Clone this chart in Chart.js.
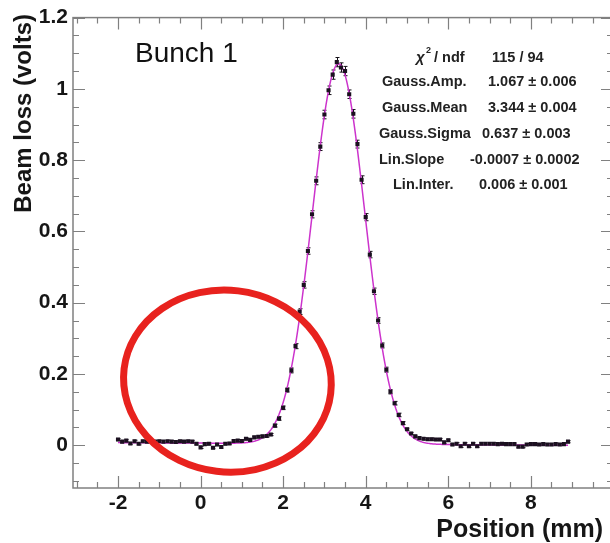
<!DOCTYPE html>
<html>
<head>
<meta charset="utf-8">
<script src="https://cdn.jsdelivr.net/npm/chart.js@4.4.1/dist/chart.umd.min.js"></script>
<style>
html, body { margin: 0; padding: 0; background: #fff; overflow: hidden; width: 610px; height: 543px; }
canvas { display: block; }
</style>
</head>
<body>
<canvas id="scan" width="624" height="543"></canvas>
<script>
// Wire scan of bunch 1: beam loss signal versus wire position
const positions = [
  -2.0, -1.9, -1.8, -1.7, -1.6, -1.5, -1.4, -1.3, -1.2, -1.1,
  -1.0, -0.9, -0.8, -0.7, -0.6, -0.5, -0.4, -0.3, -0.2, -0.1,
   0.0,  0.1,  0.2,  0.3,  0.4,  0.5,  0.6,  0.7,  0.8,  0.9,
   1.0,  1.1,  1.2,  1.3,  1.4,  1.5,  1.6,  1.7,  1.8,  1.9,
   2.0,  2.1,  2.2,  2.3,  2.4,  2.5,  2.6,  2.7,  2.8,  2.9,
   3.0,  3.1,  3.2,  3.3,  3.4,  3.5,  3.6,  3.7,  3.8,  3.9,
   4.0,  4.1,  4.2,  4.3,  4.4,  4.5,  4.6,  4.7,  4.8,  4.9,
   5.0,  5.1,  5.2,  5.3,  5.4,  5.5,  5.6,  5.7,  5.8,  5.9,
   6.0,  6.1,  6.2,  6.3,  6.4,  6.5,  6.6,  6.7,  6.8,  6.9,
   7.0,  7.1,  7.2,  7.3,  7.4,  7.5,  7.6,  7.7,  7.8,  7.9,
   8.0,  8.1,  8.2,  8.3,  8.4,  8.5,  8.6,  8.7,  8.8,  8.9
];
const beamLoss = [
  0.016, 0.010, 0.013, 0.005, 0.011, 0.004, 0.011, 0.010, 0.011, 0.010,
  0.011, 0.010, 0.011, 0.010, 0.009, 0.011, 0.010, 0.011, 0.010, 0.004,
 -0.006, 0.003, 0.004,-0.007, 0.002,-0.005, 0.004, 0.005, 0.012, 0.013,
  0.012, 0.018, 0.015, 0.022, 0.024, 0.025, 0.026, 0.030, 0.055, 0.075,
  0.105, 0.155, 0.210, 0.278, 0.375, 0.450, 0.545, 0.648, 0.742, 0.838,
  0.928, 0.996, 1.040, 1.075, 1.060, 1.050, 0.985, 0.930, 0.845, 0.745,
  0.640, 0.535, 0.432, 0.350, 0.280, 0.212, 0.150, 0.118, 0.085, 0.062,
  0.045, 0.033, 0.025, 0.020, 0.018, 0.017, 0.017, 0.016, 0.016, 0.008,
  0.014, 0.002, 0.004,-0.003, 0.004,-0.003, 0.004,-0.003, 0.004, 0.004,
  0.004, 0.004, 0.003, 0.004, 0.003, 0.003, 0.003,-0.004,-0.004, 0.002,
  0.003, 0.003, 0.002, 0.003, 0.002, 0.002, 0.003, 0.002, 0.003, 0.010
];
const beamLossErr = [
  0.003, 0.003, 0.003, 0.003, 0.003, 0.003, 0.003, 0.003, 0.003, 0.003,
  0.003, 0.003, 0.003, 0.003, 0.003, 0.003, 0.003, 0.003, 0.003, 0.003,
  0.003, 0.003, 0.003, 0.003, 0.003, 0.003, 0.003, 0.003, 0.003, 0.003,
  0.003, 0.003, 0.003, 0.003, 0.003, 0.003, 0.003, 0.003, 0.004, 0.005,
  0.005, 0.006, 0.007, 0.007, 0.008, 0.009, 0.009, 0.010, 0.011, 0.011,
  0.012, 0.012, 0.013, 0.013, 0.013, 0.013, 0.012, 0.012, 0.011, 0.011,
  0.010, 0.009, 0.009, 0.008, 0.007, 0.007, 0.006, 0.005, 0.005, 0.004,
  0.003, 0.003, 0.003, 0.003, 0.003, 0.003, 0.003, 0.003, 0.003, 0.003,
  0.003, 0.003, 0.003, 0.003, 0.003, 0.003, 0.003, 0.003, 0.003, 0.003,
  0.003, 0.003, 0.003, 0.003, 0.003, 0.003, 0.003, 0.003, 0.003, 0.003,
  0.003, 0.003, 0.003, 0.003, 0.003, 0.003, 0.003, 0.003, 0.003, 0.003
];

// Axis ticks
const xTickValues = [-2, 0, 2, 4, 6, 8];
const yTickValues = [0, 0.2, 0.4, 0.6, 0.8, 1, 1.2];
const yTickLabels = ['0', '0.2', '0.4', '0.6', '0.8', '1', '1.2'];

// Gaussian + linear fit result
const fitNames    = ['Gauss.Amp.', 'Gauss.Mean', 'Gauss.Sigma', 'Lin.Slope', 'Lin.Inter.'];
const fitValues   = [1.067, 3.344, 0.637, -0.0007, 0.006];
const fitErrors   = [0.006, 0.004, 0.003, 0.0002, 0.001];
const fitDecimals = [3, 3, 3, 4, 3];
const fitChi2 = [115, 94];
const fitRange = [-2.0, 8.9];

// Highlighted region (centre and half-widths in mm / volts)
const ringCenter = [0.65, 0.18];
const ringRadii = [2.52, 0.255];

function fitModel(x) {
  const [amp, mean, sigma, slope, inter] = fitValues;
  return amp * Math.exp(-0.5 * Math.pow((x - mean) / sigma, 2)) + slope * x + inter;
}
const fitCurve = [];
for (let i = 0; i <= 400; i++) {
  const x = fitRange[0] + (fitRange[1] - fitRange[0]) * i / 400;
  fitCurve.push({ x: x, y: fitModel(x) });
}
const scanPoints = positions.map((x, i) => ({ x: x, y: beamLoss[i] }));

const FONT = '"Liberation Sans", Arial, Helvetica, sans-serif';
const INK = '#161616';

const errorBars = {
  id: 'errorBars',
  beforeDatasetsDraw(chart) {
    const { ctx, scales: { x, y } } = chart;
    ctx.save();
    ctx.strokeStyle = '#151018';
    ctx.lineWidth = 1;
    positions.forEach((px, i) => {
      const cx = Math.round(x.getPixelForValue(px)) + 0.5;
      const y1 = y.getPixelForValue(beamLoss[i] + beamLossErr[i]);
      const y2 = y.getPixelForValue(beamLoss[i] - beamLossErr[i]);
      ctx.beginPath();
      ctx.moveTo(cx, y1); ctx.lineTo(cx, y2);
      ctx.moveTo(cx - 2, y1); ctx.lineTo(cx + 2, y1);
      ctx.moveTo(cx - 2, y2); ctx.lineTo(cx + 2, y2);
      ctx.stroke();
    });
    ctx.restore();
  }
};

const ring = {
  id: 'ring',
  afterDatasetsDraw(chart) {
    const { ctx, scales: { x, y } } = chart;
    const cx = x.getPixelForValue(ringCenter[0]);
    const cy = y.getPixelForValue(ringCenter[1]);
    const rx = x.getPixelForValue(ringCenter[0] + ringRadii[0]) - cx;
    const ry = cy - y.getPixelForValue(ringCenter[1] + ringRadii[1]);
    ctx.save();
    ctx.strokeStyle = '#e8221e';
    ctx.lineWidth = 7;
    ctx.beginPath();
    ctx.ellipse(cx, cy, rx, ry, 0.12, 0, Math.PI * 2);
    ctx.stroke();
    ctx.restore();
  }
};

const frame = {
  id: 'frame',
  afterDraw(chart) {
    const { ctx, chartArea: a, scales: { x, y } } = chart;
    ctx.save();
    ctx.strokeStyle = '#808080';
    ctx.lineWidth = 1.5;
    ctx.strokeRect(a.left, a.top, a.right - a.left, a.bottom - a.top);
    ctx.lineWidth = 1.2;
    ctx.beginPath();
    const xMinor = 0.5, yMinor = 0.05;
    for (let v = Math.ceil(x.min / xMinor) * xMinor; v <= x.max + 1e-9; v += xMinor) {
      const major = Math.abs(v / 2 - Math.round(v / 2)) < 1e-6;
      const len = major ? 12 : 6;
      const px = Math.round(x.getPixelForValue(v)) + 0.5;
      ctx.moveTo(px, a.bottom); ctx.lineTo(px, a.bottom - len);
      ctx.moveTo(px, a.top); ctx.lineTo(px, a.top + len);
    }
    for (let v = Math.ceil(y.min / yMinor) * yMinor; v <= y.max + 1e-9; v += yMinor) {
      const major = Math.abs(v / 0.2 - Math.round(v / 0.2)) < 1e-6;
      const len = major ? 12 : 6;
      const py = Math.round(y.getPixelForValue(v)) + 0.5;
      ctx.moveTo(a.left, py); ctx.lineTo(a.left + len, py);
      ctx.moveTo(a.right, py); ctx.lineTo(a.right - len, py);
    }
    ctx.stroke();
    ctx.restore();
  }
};

const annotations = {
  id: 'annotations',
  afterDraw(chart) {
    const { ctx } = chart;
    ctx.save();
    ctx.fillStyle = INK;

    // axis titles
    ctx.font = 'bold 25px ' + FONT;
    ctx.textAlign = 'right';
    ctx.textBaseline = 'alphabetic';
    ctx.fillText('Position (mm)', 603, 537);

    ctx.save();
    ctx.translate(31, 14);
    ctx.rotate(-Math.PI / 2);
    ctx.font = 'bold 24px ' + FONT;
    ctx.textAlign = 'right';
    ctx.fillText('Beam loss (volts)', 0, 0);
    ctx.restore();

    // label
    ctx.font = '28px ' + FONT;
    ctx.textAlign = 'left';
    ctx.fillStyle = '#111';
    ctx.fillText('Bunch 1', 135, 62);

    // fit statistics
    ctx.fillStyle = '#222';
    ctx.textBaseline = 'middle';
    ctx.font = 'italic bold 15px ' + FONT;
    ctx.fillText('\u03C7', 416, 58);
    ctx.font = 'bold 9px ' + FONT;
    ctx.fillText('2', 426, 51);
    ctx.font = 'bold 14.5px ' + FONT;
    ctx.fillText(' / ndf', 430, 58);
    ctx.fillText(fitChi2[0] + ' / ' + fitChi2[1], 492, 58);

    const rowY = [82, 108, 134, 160, 185];
    const nameX = [382, 382, 379, 379, 393];
    const valX = [488, 488, 482, 470, 479];
    fitNames.forEach((name, i) => {
      ctx.fillText(name, nameX[i], rowY[i]);
      const d = fitDecimals[i];
      ctx.fillText(fitValues[i].toFixed(d) + ' \u00B1 ' + fitErrors[i].toFixed(d), valX[i], rowY[i]);
    });
    ctx.restore();
  }
};

new Chart(document.getElementById('scan'), {
  type: 'scatter',
  data: {
    datasets: [
      {
        label: 'data',
        data: scanPoints,
        showLine: false,
        pointStyle: 'rect',
        pointRadius: 2.9,
        pointBackgroundColor: '#1b1020',
        pointBorderWidth: 0
      },
      {
        label: 'fit',
        data: fitCurve,
        showLine: true,
        borderColor: '#cc33cc',
        borderWidth: 1.5,
        pointRadius: 0,
        tension: 0
      }
    ]
  },
  options: {
    responsive: false,
    animation: false,
    layout: { padding: { top: 17, right: 11, left: 0, bottom: 0 } },
    plugins: { legend: { display: false }, tooltip: { enabled: false } },
    scales: {
      x: {
        type: 'linear',
        min: -3.09,
        max: 9.99,
        grid: { display: false, drawTicks: false },
        border: { display: false },
        afterBuildTicks: (s) => { s.ticks = xTickValues.map(v => ({ value: v })); },
        afterFit: (s) => { s.height = 55; },
        ticks: {
          padding: 3,
          color: INK,
          font: { family: FONT, size: 21, weight: 'bold' },
          callback: (v) => String(v)
        }
      },
      y: {
        type: 'linear',
        min: -0.12,
        max: 1.2,
        grid: { display: false, drawTicks: false },
        border: { display: false },
        afterBuildTicks: (s) => { s.ticks = yTickValues.map(v => ({ value: v })); },
        afterFit: (s) => { s.width = 73; },
        ticks: {
          padding: 5,
          color: INK,
          font: { family: FONT, size: 21, weight: 'bold' },
          callback: (v) => yTickLabels[yTickValues.indexOf(v)]
        }
      }
    }
  },
  plugins: [errorBars, frame, ring, annotations]
});
</script>
</body>
</html>
